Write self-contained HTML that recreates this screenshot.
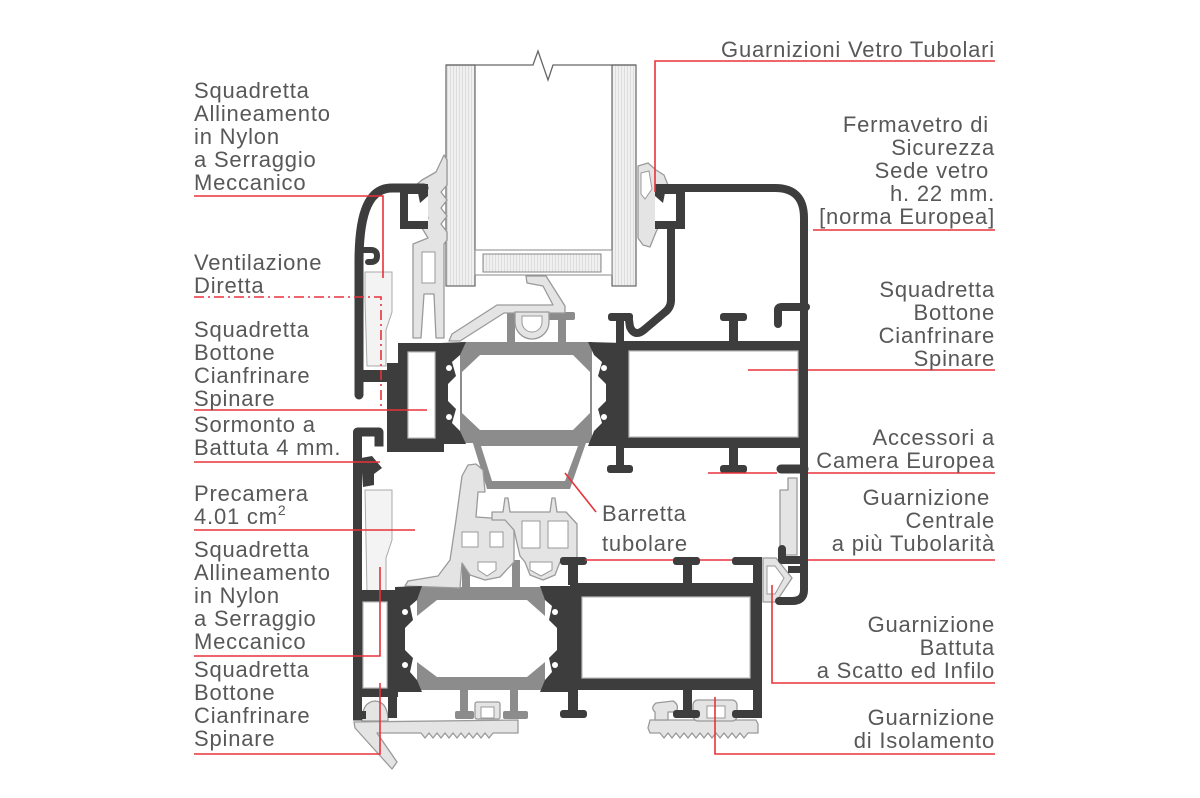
<!DOCTYPE html>
<html><head><meta charset="utf-8">
<style>
html,body{margin:0;padding:0;background:#fff;}
svg{display:block;}
text{font-family:"Liberation Sans",sans-serif;font-size:22px;fill:#585858;letter-spacing:0.8px;}
.r{text-anchor:end;}
</style></head><body>
<svg width="1200" height="798" viewBox="0 0 1200 798" xmlns="http://www.w3.org/2000/svg">
<defs>
<pattern id="h" width="3" height="3" patternUnits="userSpaceOnUse">
<rect width="3" height="3" fill="#f0f0f0"/>
<rect width="1" height="3" fill="#dddddd"/>
</pattern>
</defs>

<!-- glass -->
<rect x="446" y="65" width="29" height="221" fill="url(#h)" stroke="#666" stroke-width="1.2"/>
<rect x="612" y="65" width="24" height="221" fill="url(#h)" stroke="#666" stroke-width="1.2"/>
<path d="M446 65 L533 65 L538 51 L548 80 L553 65 L636 65" fill="none" stroke="#666" stroke-width="1.3"/>
<rect x="475" y="250" width="137" height="25" fill="#fff" stroke="#888"/>
<rect x="483" y="254" width="118" height="18" fill="url(#h)" stroke="#888"/>

<!-- light strips -->
<polygon points="365,272 392,272 392,312 386,330 386,366 367,366 365,300" fill="#f3f3f3" stroke="#aaa" stroke-width="1"/>
<polygon points="365,490 392,490 392,540 386,558 386,592 367,592" fill="#f3f3f3" stroke="#aaa" stroke-width="1"/>

<!-- gray thermal breaks -->
<g fill="#8c8c8c">
<rect x="460" y="342" width="132" height="101"/>
<rect x="507" y="312" width="8" height="32"/>
<rect x="558" y="318" width="8" height="26"/>
<rect x="548" y="312" width="27" height="8" rx="2"/>
<polygon points="472,440 487,489 570,489 587,440"/>
<rect x="417" y="587" width="128" height="103"/>
<rect x="462" y="560" width="8" height="30"/>
<rect x="512" y="560" width="8" height="30"/>
<rect x="460" y="688" width="8" height="28"/>
<rect x="510" y="688" width="8" height="28"/>
<rect x="455" y="711" width="19" height="8" rx="2"/>
<rect x="503" y="711" width="25" height="8" rx="2"/>
</g>
<polygon points="480,355 573,355 590,372 590,413 573,430 480,430 462,413 462,372" fill="#fff"/>
<polygon points="481,446 492,481 565,481 578,446" fill="#fff"/>
<polygon points="437,600 527,600 545,616 545,662 527,677 437,677 417,662 417,616" fill="#fff"/>

<!-- light gaskets -->
<g fill="#e4e4e4" stroke="#9a9a9a" stroke-width="1.3" stroke-linejoin="round">
<polygon points="444,155 447,160 447,185 441,192 447,200 441,208 447,216 441,224 447,232 447,240 444,244 444,338 436,338 434,294 424,294 421,338 413,338 413,244 428,238 422,228 428,218 424,205 412,198 410,190 422,180 436,172"/>
<polygon points="638,166 648,163 656,170 664,175 668,185 662,190 664,200 658,208 662,220 656,232 650,247 643,245 638,238"/>
<polygon points="449,341 452,334 497,305 553,305 543,286 527,283 526,276 546,276 565,306 565,313 504,313 460,341"/>
<path d="M515 312 L549 312 L549 322 A17 17 0 0 1 515 322 Z"/>
<polygon points="405,586 408,581 438,576 450,560 456,520 462,476 468,465 476,464 483,470 485,492 478,492 476,517 505,519 514,530 514,562 500,577 485,580 470,575 462,563 460,588"/>
<polygon points="492,512 503,512 505,498 508,498 510,512 550,512 552,498 555,498 557,512 566,512 577,524 577,558 560,562 555,575 543,580 530,575 525,562 520,556 514,530 505,520 492,520"/>
<polygon points="788,478 797,478 797,555 780,555 780,490 788,490"/>
<polygon points="763,558 776,558 792,578 776,602 763,602"/>
<polygon points="354,722 518,720 518,733 493,733 489,738 485,733 481,738 477,733 473,738 469,733 465,738 461,733 457,738 453,733 449,738 445,733 441,738 437,733 433,738 429,733 425,738 421,733 417,733 377,733 397,762 392,769 355,728"/>
<path d="M362 721 Q362 702 375 701 Q388 702 388 721 Z"/>
<rect x="475" y="702" width="25" height="17" rx="2"/>
<polygon points="650,720 756,720 758,724 758,733 748,733 744,738 740,733 736,738 732,733 728,738 724,733 720,738 716,733 712,738 708,733 704,738 700,733 696,738 692,733 688,738 684,733 680,738 676,733 672,738 668,733 664,738 660,733 650,733 648,728"/>
<path d="M655 720 L655 712 Q650 708 656 703 L673 701 Q680 705 676 712 L668 712 L668 720 Z"/>
<rect x="693" y="700" width="44" height="21" rx="5"/>
</g>
<g fill="#fff" stroke="#9a9a9a" stroke-width="1">
<rect x="422" y="252" width="13" height="31"/>
<path d="M641 173 L649 171 L652 189 L645 199 L641 194 Z"/>
<path d="M522 316 L542 316 L542 322 A10 10 0 0 1 522 322 Z"/>
<rect x="462" y="532" width="16" height="15"/>
<rect x="490" y="532" width="13" height="15"/>
<polygon points="478,562 496,562 496,570 487,576 478,570"/>
<rect x="522" y="521" width="18" height="27"/>
<rect x="548" y="521" width="20" height="27"/>
<polygon points="530,562 552,562 552,570 541,576 530,570"/>
<polygon points="767,566 775,566 784,578 775,594 767,594"/>
<rect x="481" y="707" width="13" height="11"/>
<rect x="707" y="706" width="18" height="12"/>
</g>

<!-- dark profiles -->
<g fill="#3d3d3d">
<rect x="400" y="184" width="28" height="45"/>
<rect x="655" y="184" width="30" height="45"/>
<rect x="355" y="370" width="38" height="12"/>
<rect x="398" y="343" width="46" height="109"/>
<rect x="387" y="363" width="12" height="89"/>
<polygon points="440,343 466,342 460,355 452,362 456,376 448,384 448,401 456,409 452,423 460,431 466,444 440,444"/>
<polygon points="624,343 588,342 594,355 602,362 598,376 606,384 606,401 598,409 602,423 594,431 588,446 624,446"/>
<rect x="622" y="341" width="186" height="107"/>
<rect x="608" y="313" width="25" height="8" rx="3"/>
<rect x="616" y="318" width="8" height="25"/>
<rect x="720" y="313" width="27" height="8" rx="3"/>
<rect x="729" y="318" width="9" height="25"/>
<rect x="616" y="446" width="8" height="22"/>
<rect x="607" y="465" width="26" height="8" rx="3"/>
<rect x="729" y="446" width="9" height="22"/>
<rect x="720" y="465" width="27" height="8" rx="3"/>
<rect x="788" y="566" width="14" height="7"/>
<polygon points="361,458 372,456 382,468 374,474 374,485 363,487"/>
<rect x="353" y="590" width="45" height="107"/>
<rect x="388" y="695" width="9" height="23"/>
<rect x="353" y="711" width="13" height="8"/>
<polygon points="395,587 422,586 417,600 410,606 413,620 405,628 405,650 413,658 410,672 417,680 422,692 395,692"/>
<polygon points="575,586 540,586 545,600 552,606 549,620 557,628 557,650 549,658 552,672 545,680 540,692 575,692"/>
<rect x="570" y="583" width="192" height="107"/>
<rect x="560" y="557" width="27" height="8" rx="3"/>
<rect x="568" y="563" width="10" height="22"/>
<rect x="673" y="557" width="27" height="8" rx="3"/>
<rect x="683" y="563" width="9" height="22"/>
<rect x="732" y="557" width="30" height="8" rx="3"/>
<rect x="753" y="557" width="9" height="161"/>
<rect x="568" y="688" width="10" height="24"/>
<rect x="560" y="710" width="27" height="8" rx="3"/>
<rect x="683" y="688" width="9" height="24"/>
<rect x="673" y="710" width="27" height="8" rx="3"/>
<rect x="732" y="710" width="30" height="8" rx="3"/>
</g>
<g fill="#fff">
<rect x="408" y="194" width="20" height="27"/>
<rect x="655" y="194" width="21" height="27"/>
</g>
<g fill="#3d3d3d">
<polygon points="417,188 428,188 428,196 420,203"/>
<polygon points="655,188 666,188 663,203 655,196"/>
</g>
<g fill="#fff" stroke="#bbb" stroke-width="1.2">
<rect x="408" y="352" width="27" height="86"/>
<rect x="629" y="351" width="169" height="86"/>
<rect x="363" y="602" width="24" height="86"/>
<rect x="582" y="597" width="168" height="81"/>
</g>
<g fill="#fff">
<circle cx="449" cy="368" r="3"/><circle cx="449" cy="417" r="3"/>
<circle cx="604" cy="368" r="3"/><circle cx="604" cy="417" r="3"/>
<circle cx="405" cy="612" r="3"/><circle cx="405" cy="665" r="3"/>
<circle cx="555" cy="612" r="3"/><circle cx="555" cy="665" r="3"/>
</g>
<g fill="none" stroke="#3d3d3d" stroke-linecap="round" stroke-linejoin="round">
<path d="M424 188 L392 188 C370 188 359 210 359 262 L359 395" stroke-width="9"/>
<path d="M363 250 L371 250 Q377 250 377 256 Q377 262 371 262 L368 262" stroke-width="6"/>
<path d="M668 188 L775 188 Q804 188 804 218 L804 590 Q804 601 792 601 L779 601" stroke-width="8"/>
<path d="M671 226 L671 300 Q671 308 664 313 L645 329 Q635 338 630 327 L629 320" stroke-width="8"/>
<path d="M778 324 L778 310 Q778 307 782 307 L806 307" stroke-width="8"/>
<path d="M781 469 L804 469" stroke-width="9"/>
<path d="M782 549 L782 560 L802 560" stroke-width="8"/>
<path d="M379 442 L379 432 L357.5 432 L357.5 716" stroke-width="9" stroke-linecap="square"/>
</g>

<!-- red leader lines -->
<g fill="none" stroke="#e8333b" stroke-width="1.6">
<path d="M655 192 L655 61 L995 61"/>
<path d="M813 230 L995 230"/>
<path d="M748 370 L798 370 M808 370 L995 370"/>
<path d="M708 473 L777 473 M808 473 L995 473"/>
<path d="M585 560 L673 560 M700 560 L732 560 M808 560 L995 560"/>
<path d="M772 585 L772 683 L995 683"/>
<path d="M715 697 L715 754 L995 754"/>
<path d="M194 196 L383 196 L383 278"/>
<path d="M194 297 L381 297 L381 407" stroke-dasharray="10 4 2 4"/>
<path d="M194 410 L427 410"/>
<path d="M194 462 L380 462"/>
<path d="M194 530 L415 530"/>
<path d="M194 656 L380 656 L380 567"/>
<path d="M194 754 L380 754 L380 683"/>
<path d="M565 473 L596 512"/>
</g>

<!-- left labels -->
<text x="194" y="98">Squadretta</text>
<text x="194" y="121">Allineamento</text>
<text x="194" y="144">in Nylon</text>
<text x="194" y="167">a Serraggio</text>
<text x="194" y="190">Meccanico</text>
<text x="194" y="270">Ventilazione</text>
<text x="194" y="293">Diretta</text>
<text x="194" y="337">Squadretta</text>
<text x="194" y="360">Bottone</text>
<text x="194" y="383">Cianfrinare</text>
<text x="194" y="406">Spinare</text>
<text x="194" y="432">Sormonto a</text>
<text x="194" y="455">Battuta 4 mm.</text>
<text x="194" y="501">Precamera</text>
<text x="194" y="524">4.01 cm<tspan font-size="14" dy="-9">2</tspan></text>
<text x="194" y="557">Squadretta</text>
<text x="194" y="580">Allineamento</text>
<text x="194" y="603">in Nylon</text>
<text x="194" y="626">a Serraggio</text>
<text x="194" y="649">Meccanico</text>
<text x="194" y="677">Squadretta</text>
<text x="194" y="700">Bottone</text>
<text x="194" y="723">Cianfrinare</text>
<text x="194" y="746">Spinare</text>

<!-- right labels -->
<text class="r" x="995" y="57">Guarnizioni Vetro Tubolari</text>
<text class="r" x="989" y="132">Fermavetro di</text>
<text class="r" x="995" y="155">Sicurezza</text>
<text class="r" x="989" y="178">Sede vetro</text>
<text class="r" x="995" y="201">h. 22 mm.</text>
<text class="r" x="995" y="224">[norma Europea]</text>
<text class="r" x="995" y="297">Squadretta</text>
<text class="r" x="995" y="320">Bottone</text>
<text class="r" x="995" y="343">Cianfrinare</text>
<text class="r" x="995" y="366">Spinare</text>
<text class="r" x="995" y="445">Accessori a</text>
<text class="r" x="995" y="468">Camera Europea</text>
<text class="r" x="990" y="505">Guarnizione</text>
<text class="r" x="995" y="528">Centrale</text>
<text class="r" x="995" y="551">a più Tubolarità</text>
<text class="r" x="995" y="632">Guarnizione</text>
<text class="r" x="995" y="655">Battuta</text>
<text class="r" x="995" y="678">a Scatto ed Infilo</text>
<text class="r" x="995" y="725">Guarnizione</text>
<text class="r" x="995" y="748">di Isolamento</text>

<text x="602" y="521">Barretta</text>
<text x="602" y="551">tubolare</text>
</svg>
</body></html>
